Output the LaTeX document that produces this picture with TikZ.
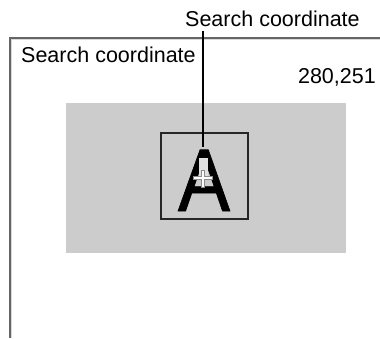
\documentclass[tikz,border=0pt]{standalone}
\usepackage{fontspec}
\setmainfont{Liberation Sans}
\newfontfamily\glyphfont[FakeBold=0.8]{Liberation Sans}
\begin{document}
\begin{tikzpicture}[x=1pt,y=-1pt,
  lbl/.style={inner sep=0pt, font=\fontsize{21.5}{25}\selectfont},
  frame/.style={draw=black!60, line width=2pt},
  glyph/.style={inner sep=0pt, font=\fontsize{89}{100}\glyphfont, xscale=0.88}]
\useasboundingbox (0,0) rectangle (380,338);
% outer frame
\draw[frame] (10,338) -- (10,38) -- (381,38);
\draw[black!15, line width=0.8pt] (11.8,338) -- (11.8,39.8) -- (381,39.8);
% gray field
\fill[black!20] (66,103) rectangle (346,253);
% letter A
\node[glyph, anchor=base] (A) at (204,211) {A};
% light area in counter and cross
\fill[black!12] (199,158) rectangle (207.5,177);
\draw[black!45, line width=3.2pt] (193,178) -- (213,178) (203,170) -- (203,188);
\draw[white, line width=1.4pt] (193.8,178) -- (212.2,178) (203,170.8) -- (203,187.2);
% search window
\draw[black!85, line width=1.1pt] (161,133) rectangle (248,219);
% labels
\node[lbl, anchor=base west] (top) at (185,26) {Search coordinate};
\node[lbl, anchor=base west] (inner) at (21,62) {Search coordinate};
\node[lbl, anchor=base east] (coord) at (376,83) {280,251};
\coordinate (tip) at (203,147);
\draw[black, line width=1.2pt] (203,31) -- (tip);
\end{tikzpicture}
\end{document}
